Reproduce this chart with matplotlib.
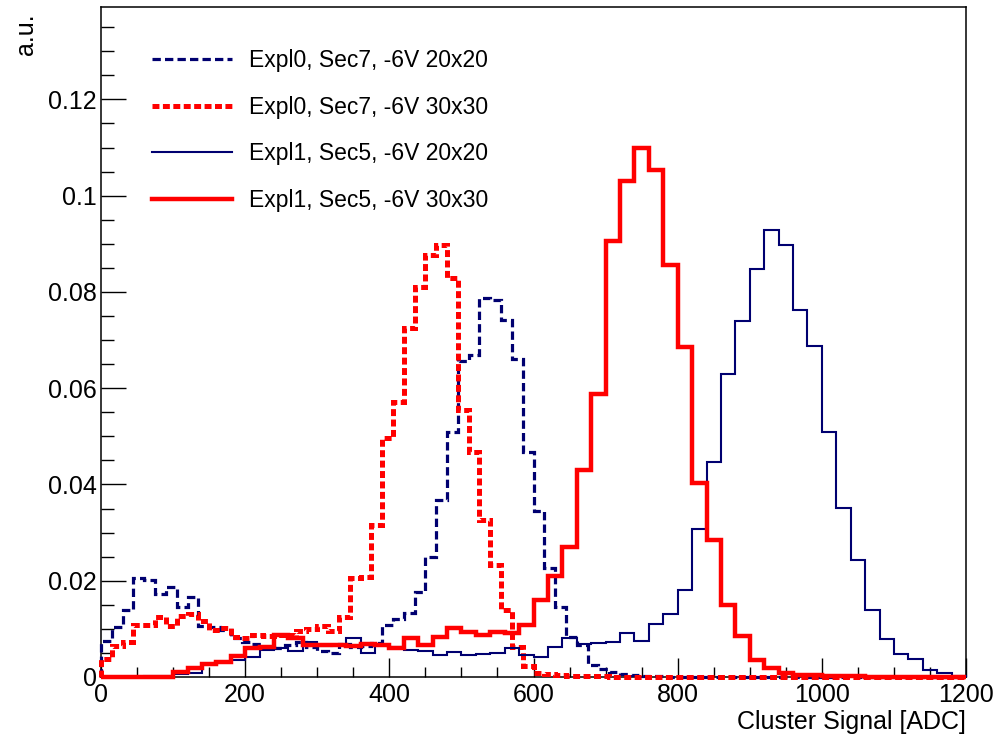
import numpy as np
import matplotlib
matplotlib.use("Agg")
import matplotlib.pyplot as plt
from matplotlib.ticker import MultipleLocator, FuncFormatter

plt.rcParams['font.family'] = ['Liberation Sans', 'DejaVu Sans']
plt.rcParams['lines.scale_dashes'] = False

# ---------------------------- Histogram contents ---------------------------- #

# Expl0 histograms use 15 ADC bins, Expl1 histograms use 20 ADC bins
signal_range = (0, 1200)
expl0_nbins = 80
expl1_nbins = 60

# Expl0, Sec7, -6V 20x20
expl0_20x20 = [
    0.0075, 0.0104, 0.0139, 0.0205, 0.0202, 0.0172, 0.0188, 0.0145, 0.0167, 0.0105,
    0.0104, 0.0098, 0.0080, 0.0072, 0.0068, 0.0062, 0.0060, 0.0066, 0.0072, 0.0062,
    0.0055, 0.0050, 0.0068, 0.0062, 0.0065, 0.0070, 0.0108, 0.0120, 0.0132, 0.0177,
    0.0250, 0.0368, 0.0510, 0.0656, 0.0670, 0.0787, 0.0784, 0.0742, 0.0660, 0.0468,
    0.0344, 0.0227, 0.0146, 0.0084, 0.0066, 0.0024, 0.0017, 0.0010, 0.0006, 0.0004,
    0.0003, 0.0002, 0.0001, 0.0001, 0.0001, 0.0, 0.0, 0.0, 0.0, 0.0,
    0.0, 0.0, 0.0, 0.0, 0.0, 0.0, 0.0, 0.0, 0.0, 0.0,
    0.0, 0.0, 0.0, 0.0, 0.0, 0.0, 0.0, 0.0, 0.0, 0.0,
]

# Expl0, Sec7, -6V 30x30
expl0_30x30 = [
    0.0037, 0.0064, 0.0072, 0.0107, 0.0109, 0.0124, 0.0106, 0.0127, 0.0130, 0.0116,
    0.0098, 0.0101, 0.0084, 0.0082, 0.0087, 0.0085, 0.0087, 0.0087, 0.0096, 0.0100,
    0.0105, 0.0096, 0.0124, 0.0205, 0.0208, 0.0316, 0.0496, 0.0572, 0.0725, 0.0811,
    0.0877, 0.0898, 0.0829, 0.0555, 0.0468, 0.0326, 0.0233, 0.0139, 0.0063, 0.0022,
    0.0008, 0.0006, 0.0005, 0.0003, 0.0003, 0.0002, 0.0002, 0.0001, 0.0001, 0.0001,
    0.0, 0.0, 0.0, 0.0, 0.0, 0.0, 0.0, 0.0, 0.0, 0.0,
    0.0, 0.0, 0.0, 0.0, 0.0, 0.0, 0.0, 0.0, 0.0, 0.0,
    0.0, 0.0, 0.0, 0.0, 0.0, 0.0, 0.0, 0.0, 0.0, 0.0,
]

# Expl1, Sec5, -6V 20x20
expl1_20x20 = [
    0.0, 0.0, 0.0, 0.0002, 0.0003, 0.0007, 0.0009, 0.0026, 0.0032, 0.0035,
    0.0042, 0.0056, 0.0060, 0.0055, 0.0073, 0.0065, 0.0066, 0.0082, 0.0050, 0.0066,
    0.0063, 0.0057, 0.0053, 0.0046, 0.0052, 0.0046, 0.0048, 0.0050, 0.0060, 0.0046,
    0.0042, 0.0063, 0.0082, 0.0068, 0.0070, 0.0072, 0.0092, 0.0075, 0.0110, 0.0131,
    0.0181, 0.0308, 0.0446, 0.0630, 0.0740, 0.0848, 0.0928, 0.0898, 0.0763, 0.0688,
    0.0510, 0.0352, 0.0243, 0.0139, 0.0079, 0.0048, 0.0037, 0.0015, 0.0008, 0.0003,
]

# Expl1, Sec5, -6V 30x30
expl1_30x30 = [
    0.0, 0.0, 0.0, 0.0, 0.0, 0.0011, 0.0018, 0.0026, 0.0032, 0.0044,
    0.0061, 0.0062, 0.0087, 0.0082, 0.0067, 0.0066, 0.0066, 0.0065, 0.0068, 0.0066,
    0.0060, 0.0080, 0.0067, 0.0084, 0.0101, 0.0094, 0.0087, 0.0094, 0.0091, 0.0108,
    0.0161, 0.0209, 0.0270, 0.0430, 0.0588, 0.0905, 0.1030, 0.1099, 0.1054, 0.0856,
    0.0686, 0.0403, 0.0284, 0.0150, 0.0086, 0.0035, 0.0018, 0.0008, 0.0004, 0.0004,
    0.0003, 0.0002, 0.0002, 0.0001, 0.0001, 0.0001, 0.0, 0.0, 0.0, 0.0,
]

labels = [
    "Expl0, Sec7, -6V 20x20",
    "Expl0, Sec7, -6V 30x30",
    "Expl1, Sec5, -6V 20x20",
    "Expl1, Sec5, -6V 30x30",
]

# ---------------------------- Plot ---------------------------- #

navy = '#000070'
red = '#ff0000'

edges0 = np.linspace(signal_range[0], signal_range[1], expl0_nbins + 1)
edges1 = np.linspace(signal_range[0], signal_range[1], expl1_nbins + 1)

fig = plt.figure(figsize=(10.04, 7.38), dpi=100)
ax = fig.add_axes([101 / 1004, 61 / 738, 865 / 1004, 670 / 738])

styles = [
    (expl0_20x20, edges0, navy, 2.3, (0, (6, 3))),
    (expl0_30x30, edges0, red, 3.6, (0, (5, 2.5))),
    (expl1_20x20, edges1, navy, 1.5, 'solid'),
    (expl1_30x30, edges1, red, 3.2, 'solid'),
]

handles = []
for values, edges, color, lw, ls in styles:
    h = ax.stairs(values, edges, baseline=0, color=color, linewidth=lw,
                  linestyle=ls, joinstyle='miter', capstyle='butt',
                  clip_on=False, zorder=3)
    handles.append(h)

ax.set_xlim(0, 1200)
ax.set_ylim(0, 0.1392)

# ROOT-like frame and inward ticks
for spine in ax.spines.values():
    spine.set_linewidth(1.1)
    spine.set_zorder(2)

ax.set_xticks(np.arange(0, 1201, 200))
ax.set_yticks(np.arange(0, 0.121, 0.02))
ax.xaxis.set_minor_locator(MultipleLocator(50))
ax.yaxis.set_minor_locator(MultipleLocator(0.005))
ax.xaxis.set_major_formatter(FuncFormatter(lambda v, p: f'{v:g}'))
ax.yaxis.set_major_formatter(FuncFormatter(lambda v, p: f'{round(v, 3):g}'))

ax.tick_params(axis='x', which='major', direction='in', length=14, width=1.0,
               labelsize=18, pad=4, top=False)
ax.tick_params(axis='x', which='minor', direction='in', length=7, width=1.0, top=False)
ax.tick_params(axis='y', which='major', direction='in', length=18, width=1.0,
               labelsize=18, pad=3, right=False)
ax.tick_params(axis='y', which='minor', direction='in', length=9, width=1.0, right=False)

ax.text(1.0, -0.05, 'Cluster Signal [ADC]', transform=ax.transAxes,
        ha='right', va='top', fontsize=18)
ax.text(-0.087, 0.99, 'a.u.', transform=ax.transAxes, rotation=90,
        ha='center', va='top', fontsize=18)

ax.legend(handles, labels, loc='upper left', bbox_to_anchor=(0.059, 0.937),
          frameon=False, fontsize=16.5, handlelength=3.5, handletextpad=0.75,
          labelspacing=1.03, borderpad=0, borderaxespad=0)

fig.savefig('out.png', dpi=100)
